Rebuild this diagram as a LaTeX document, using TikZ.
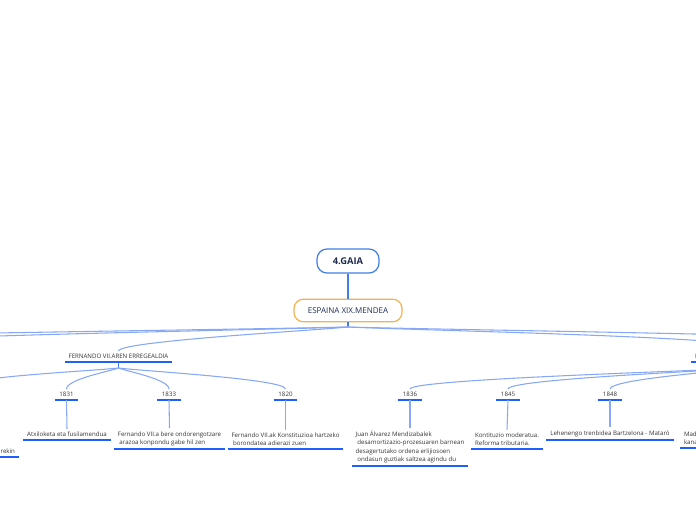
\documentclass[tikz,border=0pt]{standalone}
\usepackage{fontspec}
\setmainfont{Open Sans}
\usetikzlibrary{calc}
\definecolor{connc}{HTML}{86A8F7}
\definecolor{ulblue}{HTML}{1F5EFF}
\definecolor{rootblue}{HTML}{3F7FE6}
\definecolor{navy}{HTML}{1D2B4F}
\definecolor{orangeb}{HTML}{F7B04A}
\definecolor{txt}{HTML}{333333}
\newcommand\mmcurve[2]{\draw[conn] (#1) .. controls ($(#1)!0.15!(#2)$) and ([yshift=7.5pt]#2) .. (#2);}
\begin{document}
\begin{tikzpicture}[x=0.75pt,y=-0.75pt,
  rootbox/.style={draw=rootblue, line width=0.9pt, rounded corners=7.5pt, minimum width=46.5pt, minimum height=18pt, font=\fontsize{7}{8}\selectfont\bfseries, text=navy, fill=white},
  mainbox/.style={draw=orangeb, line width=0.9pt, rounded corners=7pt, minimum width=81pt, minimum height=17pt, font=\fontsize{6}{7}\selectfont, text=navy, fill=white},
  topic/.style={font=\fontsize{4.6}{6.2}\selectfont, text=txt, inner xsep=2.8pt, inner ysep=2.2pt, anchor=south},
  yearn/.style={topic, minimum width=17pt},
  ulline/.style={draw=ulblue, line width=1.3pt},
  conn/.style={draw=connc, line width=0.8pt},
  stem/.style={draw=rootblue, line width=1pt}]
\useasboundingbox (0,0) rectangle (696,520);
\clip (0,0) rectangle (696,520);

% main nodes
\node[rootbox] (root) at (348,261) {4.GAIA};
\node[mainbox] (esp) at (348,310.5) {ESPAINA XIX.MENDEA};
\coordinate (eb) at (348,327);
\draw[stem] (root) -- (esp);
\draw[stem] (esp.south) -- (eb);

% second level
\node[topic] (fern) at (118.5,362) {FERNANDO VII.AREN ERREGEALDIA};
\coordinate (fb) at (118.5,368);
\node[topic, anchor=south west] (isa) at (691,362) {I};
\coordinate (isatop) at (745,347);
\coordinate (isab) at (745,368);
\coordinate (offL1) at (-180,347);
\coordinate (offL2) at (-420,347);
\coordinate (offR2) at (1000,347);
\coordinate (offF) at (-40,387);
\draw[stem] (fern.south) -- (fb);

% years
\node[yearn] (y1831) at (66.5,400) {1831};
\node[yearn] (y1833) at (169,400) {1833};
\node[yearn] (y1820) at (285.5,400) {1820};
\node[yearn] (y1836) at (410,400) {1836};
\node[yearn] (y1845) at (508,400) {1845};
\node[yearn] (y1848) at (610,400) {1848};

% leaves
\node[topic] (c1831) at (67,440) {Atxiloketa eta fusilamendua};
\node[topic, align=left] (c1833) at (169.5,449) {Fernando VII.a bere ondorengotzare\\\hspace{1.2pt}arazoa konpondu gabe hil zen};
\node[topic, align=left] (c1820) at (285.5,449) {Fernando VII.ak Konstituzioa hartzeko\\\hspace{1.2pt}borondatea adierazi zuen};
\node[topic, align=left] (c1836) at (410,466) {Juan Álvarez Mendizabalek\\\hspace{1.2pt}desamortizazio-prozesuaren barnean\\desagertutako ordena erlijiosoen\\\hspace{1.2pt}ondasun guztiak saltzea agindu du};
\node[topic, align=left] (c1845) at (507,449) {Kontituzio moderatua.\\Reforma tributaria.};
\node[topic] (c1848) at (610,440) {Lehenengo trenbidea Bartzelona - Mataró};
\node[topic, anchor=south east] (crekin) at (19,457) {rekin};
\node[topic, anchor=south west, align=left] (cmad) at (680,448) {Mad\\kana};

% underlines
\foreach \n in {fern,isa,y1831,y1833,y1820,y1836,y1845,y1848,c1831,c1833,c1820,c1836,c1845,c1848,crekin,cmad}
  \draw[ulline] (\n.south west) -- (\n.south east);

% connectors
\mmcurve{eb}{fern.north}
\mmcurve{eb}{offL1}
\mmcurve{eb}{offL2}
\mmcurve{eb}{isatop}
\mmcurve{eb}{offR2}
\mmcurve{fb}{y1831.north}
\mmcurve{fb}{y1833.north}
\mmcurve{fb}{y1820.north}
\mmcurve{fb}{offF}
\mmcurve{isab}{y1836.north}
\mmcurve{isab}{y1845.north}
\mmcurve{isab}{y1848.north}
\foreach \a/\b in {y1831/c1831,y1833/c1833,y1820/c1820,y1836/c1836,y1845/c1845,y1848/c1848}
  \draw[conn] (\a.south) -- (\b.north);
\end{tikzpicture}
\end{document}
